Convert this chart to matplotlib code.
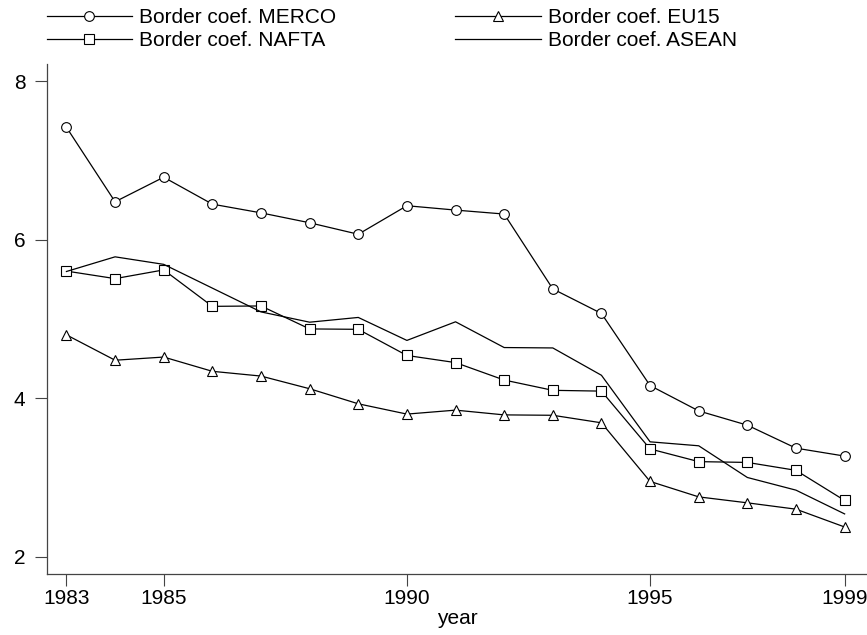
import matplotlib
matplotlib.use("Agg")
import matplotlib.pyplot as plt

plt.rcParams["font.family"] = ["Liberation Sans", "DejaVu Sans"]

years = list(range(1983, 2000))

merco = [7.42, 6.48, 6.79, 6.45, 6.34, 6.215, 6.07, 6.43, 6.375, 6.325,
         5.38, 5.07, 4.16, 3.84, 3.66, 3.37, 3.27]
nafta = [5.605, 5.51, 5.62, 5.16, 5.165, 4.875, 4.87, 4.54, 4.45, 4.23,
         4.10, 4.09, 3.36, 3.20, 3.19, 3.09, 2.71]
eu15 = [4.80, 4.48, 4.52, 4.34, 4.28, 4.12, 3.93, 3.80, 3.85, 3.79,
        3.785, 3.69, 2.95, 2.755, 2.68, 2.60, 2.375]
asean = [5.60, 5.785, 5.69, 5.39, 5.09, 4.96, 5.02, 4.73, 4.965, 4.64,
         4.635, 4.29, 3.45, 3.40, 3.00, 2.84, 2.54]

xticks = [1983, 1985, 1990, 1995, 1999]
yticks = [2, 4, 6, 8]

fig = plt.figure(figsize=(8.67, 6.35), dpi=100)
ax = fig.add_axes([0.0542, 0.0961, 0.9458, 0.803])

style = dict(color="black", lw=0.9, markerfacecolor="white",
             markeredgecolor="black", markeredgewidth=0.8)
h1, = ax.plot(years, merco, marker="o", ms=7, label="Border coef. MERCO", **style)
h3, = ax.plot(years, eu15, marker="^", ms=7.5, label="Border coef. EU15", **style)
h2, = ax.plot(years, nafta, marker="s", ms=7, label="Border coef. NAFTA", **style)
h4, = ax.plot(years, asean, label="Border coef. ASEAN", color="black", lw=0.9)

ax.set_xlim(1982.60, 1999.46)
ax.set_ylim(1.782, 8.218)
ax.set_xticks(xticks)
ax.set_yticks(yticks)
ax.tick_params(axis="both", labelsize=15, length=8.5, width=0.8, color="#444444")
ax.tick_params(axis="x", pad=2)
ax.tick_params(axis="y", pad=7)
for side in ("top", "right"):
    ax.spines[side].set_visible(False)
for side in ("left", "bottom"):
    ax.spines[side].set_color("#444444")
    ax.spines[side].set_linewidth(0.9)
ax.set_xlabel("year", fontsize=15, labelpad=1)

fig.legend(handles=[h1, h2, h3, h4], loc="upper left", bbox_to_anchor=(0.037, 1.01),
           ncol=2, frameon=False, fontsize=15, handlelength=4.1, handletextpad=0.35,
           columnspacing=5.7, labelspacing=0.2, borderpad=0.2)

fig.savefig("out.png", dpi=100)
